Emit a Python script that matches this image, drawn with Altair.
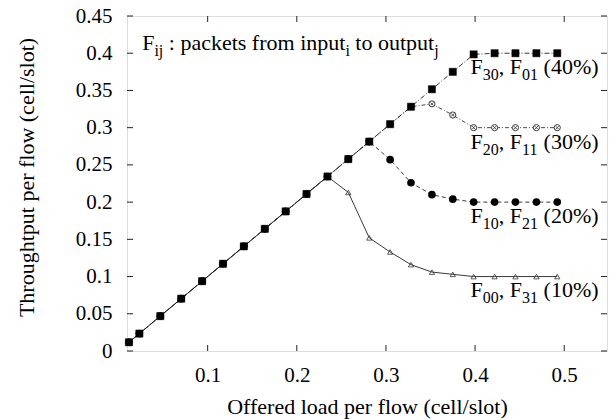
import altair as alt
import pandas as pd

# Offered load per flow (cell/slot)
load = [0.0117, 0.0234, 0.0469, 0.0703, 0.0938, 0.1172, 0.1406, 0.1641, 0.1875,
        0.2109, 0.2344, 0.2578, 0.2813, 0.3047, 0.3281, 0.3516, 0.3750, 0.3984,
        0.4219, 0.4453, 0.4688, 0.4922]

# Throughput per flow for each pair of flows
thr_40 = [0.0117, 0.0234, 0.0469, 0.0703, 0.0938, 0.1172, 0.1406, 0.1641, 0.1875,
          0.2109, 0.2344, 0.2578, 0.2813, 0.3047, 0.3281, 0.3516, 0.3750, 0.3984,
          0.400, 0.400, 0.400, 0.400]
thr_30 = [0.0117, 0.0234, 0.0469, 0.0703, 0.0938, 0.1172, 0.1406, 0.1641, 0.1875,
          0.2109, 0.2344, 0.2578, 0.2813, 0.3047, 0.3281, 0.332, 0.317, 0.300,
          0.300, 0.300, 0.300, 0.300]
thr_20 = [0.0117, 0.0234, 0.0469, 0.0703, 0.0938, 0.1172, 0.1406, 0.1641, 0.1875,
          0.2109, 0.2344, 0.2578, 0.2813, 0.257, 0.226, 0.210, 0.204, 0.200,
          0.200, 0.200, 0.200, 0.200]
thr_10 = [0.0117, 0.0234, 0.0469, 0.0703, 0.0938, 0.1172, 0.1406, 0.1641, 0.1875,
          0.2109, 0.2344, 0.213, 0.152, 0.133, 0.116, 0.106, 0.103, 0.100,
          0.100, 0.100, 0.100, 0.100]

series_names = ["40%", "30%", "20%", "10%"]
series_values = [thr_40, thr_30, thr_20, thr_10]

x_ticks = [0.1, 0.2, 0.3, 0.4, 0.5]
y_ticks = [0, 0.05, 0.1, 0.15, 0.2, 0.25, 0.3, 0.35, 0.4, 0.45]

W, H = 480, 335
FONT = "'Liberation Serif', 'Times New Roman', Times, 'DejaVu Serif', serif"

rows = []
for name, vals in zip(series_names, series_values):
    for xv, yv in zip(load, vals):
        rows.append({"load": xv, "thr": yv, "flow": name})
df = pd.DataFrame(rows)

xs = alt.Scale(domain=[0.0095, 0.548], nice=False, zero=False)
ys = alt.Scale(domain=[0, 0.45], nice=False)

x_axis = alt.Axis(values=x_ticks, format="~g", title="Offered load per flow (cell/slot)",
                  domain=False, ticks=False, grid=False, labelOverlap=False,
                  labelFont=FONT, labelFontSize=21, labelColor="#000",
                  labelPadding=30, labelBaseline="alphabetic",
                  titleFont=FONT, titleFontSize=22, titleFontWeight="normal",
                  titleColor="#000", titleY=62, titleBaseline="alphabetic")
y_axis = alt.Axis(values=y_ticks, format="~g", title="Throughtput per flow (cell/slot)",
                  domain=False, ticks=False, grid=False, labelOverlap=False,
                  labelFont=FONT, labelFontSize=21, labelColor="#000",
                  labelPadding=15, labelBaseline="middle",
                  titleFont=FONT, titleFontSize=22, titleFontWeight="normal",
                  titleColor="#000", titleAngle=270, titleX=-101, titleY=161,
                  titleAlign="center", titleBaseline="middle")


def X(field):
    return alt.X(field, scale=xs, axis=x_axis)


def Y(field):
    return alt.Y(field, scale=ys, axis=y_axis)


base = alt.Chart(df).encode(x=X("load:Q"), y=Y("thr:Q"))


def only(name):
    return base.transform_filter(alt.datum.flow == name)


line_styles = {
    "10%": dict(color="#222", strokeWidth=0.9),
    "20%": dict(color="#222", strokeWidth=0.9, strokeDash=[4, 3]),
    "30%": dict(color="#333", strokeWidth=0.9, strokeDash=[4, 2, 1, 2]),
    "40%": dict(color="#222", strokeWidth=0.9, strokeDash=[5, 2, 1, 2]),
}
lines = [only(n).mark_line(**line_styles[n]) for n in ["10%", "20%", "30%", "40%"]]

xmark = "M-1,-1L1,1M-1,1L1,-1"
markers = [
    only("10%").mark_point(shape="triangle-up", size=28, filled=False,
                           stroke="#333", strokeWidth=0.8, opacity=1),
    only("20%").mark_point(shape="circle", size=32, filled=True,
                           fill="#000", stroke="#000", opacity=1),
    only("30%").mark_point(shape="circle", size=38, filled=True, fill="#fff",
                           stroke="#3a3a3a", strokeWidth=1, opacity=1),
    only("30%").mark_point(shape=xmark, size=9, filled=False,
                           stroke="#3a3a3a", strokeWidth=0.9, opacity=1),
    only("40%").mark_point(shape="square", size=52, filled=True,
                           fill="#000", stroke="#000", strokeWidth=0.5, opacity=1),
]

# inward ticks on all four sides of the frame
xt = pd.DataFrame({"v": x_ticks})
yt = pd.DataFrame({"v": y_ticks})
tick_rules = [
    alt.Chart(xt).mark_rule(color="#222", strokeWidth=1).encode(
        x=X("v:Q"), y=alt.value(H), y2=alt.value(H - 6)),
    alt.Chart(xt).mark_rule(color="#222", strokeWidth=1).encode(
        x=X("v:Q"), y=alt.value(0), y2=alt.value(6)),
    alt.Chart(yt).mark_rule(color="#222", strokeWidth=1).encode(
        y=Y("v:Q"), x=alt.value(0), x2=alt.value(6)),
    alt.Chart(yt).mark_rule(color="#222", strokeWidth=1).encode(
        y=Y("v:Q"), x=alt.value(W), x2=alt.value(W - 6)),
]

# glyph advance widths (per 1000 em) for the serif face
ADV = {"F": 556, " ": 250, ",": 250, ":": 278, "(": 333, ")": 333, "%": 833,
       "a": 444, "c": 444, "e": 444, "f": 333, "i": 278, "j": 278, "k": 500,
       "m": 778, "n": 500, "o": 500, "p": 500, "r": 333, "s": 389, "t": 278,
       "u": 500}


def adv(text, size):
    return sum(ADV.get(ch, 500) for ch in text) / 1000.0 * size


MAIN, SUB, SUB_DY = 22, 16, 6


def rich_label(xv, yv, pieces):
    """pieces: list of (text, is_subscript, leading_space)"""
    layers = []
    dx = 0.0
    for text, sub, space in pieces:
        size = SUB if sub else MAIN
        if space:
            dx += adv(" ", MAIN)
        layers.append(
            alt.Chart(pd.DataFrame({"x": [xv], "y": [yv], "t": [text]}))
            .mark_text(align="left", baseline="alphabetic", font=FONT,
                       fontSize=size, color="#000", dx=dx,
                       dy=SUB_DY if sub else 0)
            .encode(x=X("x:Q"), y=Y("y:Q"), text="t:N")
        )
        dx += adv(text, size)
    return layers


def flow_label(yv, a, b, pct):
    return rich_label(0.395, yv, [("F", False, False), (a, True, False),
                                  (", F", False, False), (b, True, False),
                                  ("(" + pct + ")", False, True)])


texts = []
texts += rich_label(0.0265, 0.4045, [("F", False, False), ("ij", True, False),
                                     (": packets from input", False, True),
                                     ("i", True, False),
                                     ("to output", False, True),
                                     ("j", True, False)])
texts += flow_label(0.372, "30", "01", "40%")
texts += flow_label(0.272, "20", "11", "30%")
texts += flow_label(0.172, "10", "21", "20%")
texts += flow_label(0.072, "00", "31", "10%")

chart = alt.layer(*lines, *markers, *tick_rules, *texts).properties(
    width=W, height=H,
    autosize=alt.AutoSizeParams(type="none"),
    padding={"left": 127, "top": 16, "right": 3, "bottom": 69},
).configure_view(stroke="#222", strokeWidth=1).configure(background="#fff")

chart.save("out.html", embed_options={"renderer": "svg", "actions": False})
